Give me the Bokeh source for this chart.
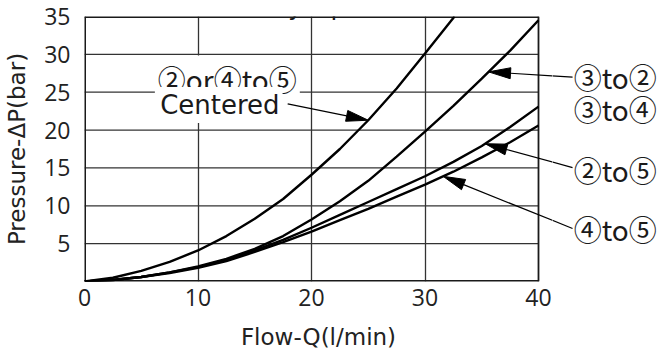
import math
import numpy as np
from bokeh.plotting import figure
from bokeh.layouts import row
from bokeh.models import Range1d, FixedTicker, Label
from bokeh.embed import file_html
from bokeh.resources import INLINE

# ---- data ----
flow = [0, 2.5, 5, 7.5, 10, 12.5, 15, 17.5, 20, 22.5, 25, 27.5, 30, 32.5, 35, 37.5, 40]
centered_flow = [0, 2.5, 5, 7.5, 10, 12.5, 15, 17.5, 20, 22.5, 25, 27.5, 30, 32.6]
centered_dp = [0, 0.5, 1.4, 2.6, 4.1, 6.0, 8.3, 10.9, 14.1, 17.5, 21.3, 25.5, 30.1, 35.0]
p3_to_2_4 = [0, 0.2, 0.6, 1.2, 2.0, 3.0, 4.3, 6.0, 8.2, 10.6, 13.3, 16.5, 19.8, 23.2, 26.8, 30.5, 34.5]
p2_to_5 = [0, 0.2, 0.6, 1.2, 1.9, 2.9, 4.1, 5.5, 7.1, 8.8, 10.5, 12.2, 13.9, 15.8, 17.9, 20.4, 23.1]
p4_to_5 = [0, 0.2, 0.6, 1.1, 1.8, 2.7, 3.9, 5.2, 6.6, 8.1, 9.6, 11.2, 12.8, 14.5, 16.4, 18.4, 20.6]

x_ticks = [0, 10, 20, 30, 40]
y_ticks = [5, 10, 15, 20, 25, 30, 35]
x_min, x_max = 0, 40
y_min, y_max = 0, 35

title_text = "Fully Open"
x_label = "Flow-Q(l/min)"
y_label = "Pressure-ΔP(bar)"

# ---- geometry ----
W_TOTAL, H = 662, 352
ML, MT, MB = 84, 16, 71
PLOT_W = 454                      # pixel width of the 0..40 chart box
EXTRA = 14                        # room right of the box for the last tick label
W1 = ML + PLOT_W + EXTRA          # main chart width
W2 = W_TOTAL - W1                 # side strip holding the right-hand labels
FH = H - MT - MB
sx = PLOT_W / (x_max - x_min)
sy = FH / (y_max - y_min)
x1_end = x_max + EXTRA / sx

p = figure(width=W1, height=H, output_backend="svg", toolbar_location=None,
           x_range=Range1d(x_min, x1_end), y_range=Range1d(y_min, y_max),
           min_border_left=ML, min_border_right=0,
           min_border_top=MT, min_border_bottom=MB)
p.background_fill_color = "white"
p.border_fill_color = "white"
p.outline_line_color = None

p.xaxis.ticker = FixedTicker(ticks=x_ticks)
p.yaxis.ticker = FixedTicker(ticks=y_ticks)
for ax in (p.xaxis, p.yaxis):
    ax.axis_line_color = None
    ax.major_tick_line_color = None
    ax.minor_tick_line_color = None
    ax.major_label_text_font = "Open Sans"
    ax.major_label_text_font_size = "23px"
    ax.major_label_text_color = "#222222"
    ax.axis_label_text_font = "DejaVu Sans"
    ax.axis_label_text_font_size = "23px"
    ax.axis_label_text_font_style = "normal"
    ax.axis_label_text_color = "#222222"
p.xaxis.major_label_standoff = 1
p.yaxis.major_label_standoff = 8
p.xaxis.axis_label = x_label
p.yaxis.axis_label = y_label
p.xaxis.axis_label_standoff = 15
p.yaxis.axis_label_standoff = 11

grid_col = "#333333"
p.xgrid.grid_line_color = grid_col
p.xgrid.grid_line_width = 1.3
p.ygrid.grid_line_color = None

# horizontal grid lines limited to the chart box, and the box edges
inner_y = [t for t in y_ticks if y_min < t < y_max]
p.segment(x0=[x_min] * len(inner_y), x1=[x_max] * len(inner_y), y0=inner_y, y1=inner_y,
          line_color=grid_col, line_width=1.3)
p.segment(x0=[x_min, x_min, x_min], x1=[x_max, x_max, x_min],
          y0=[y_min, y_max, y_min], y1=[y_min, y_max, y_max],
          line_color="#1a1a1a", line_width=3.0)
p.segment(x0=[x_max], x1=[x_max], y0=[y_min], y1=[y_max],
          line_color="#1a1a1a", line_width=1.6)

# side strip continuing the x scale to the right
p2 = figure(width=W2, height=H, output_backend="svg", toolbar_location=None,
            x_range=Range1d(x1_end, x1_end + W2 / sx), y_range=Range1d(y_min, y_max),
            x_axis_location=None, y_axis_location=None,
            min_border_left=0, min_border_right=0,
            min_border_top=MT, min_border_bottom=MB)
p2.background_fill_color = "white"
p2.border_fill_color = "white"
p2.outline_line_color = None
p2.grid.visible = False

# ---- curves ----
lw = 2.4
p.line(centered_flow, centered_dp, line_color="black", line_width=lw)
p.line(flow, p3_to_2_4, line_color="black", line_width=lw)
p.line(flow, p2_to_5, line_color="black", line_width=lw)
p.line(flow, p4_to_5, line_color="black", line_width=lw)

# ---- leader arrows ----
def pointer(tip_x, xs, ys, tail_x, tail_y, L=22, Wd=11):
    tip_y = float(np.interp(tip_x, xs, ys))
    dx = (tip_x - tail_x) * sx
    dy = (tip_y - tail_y) * sy
    n = math.hypot(dx, dy)
    ux, uy = dx / n, dy / n
    tx, ty = tip_x * sx, tip_y * sy
    bx, by = tx - L * ux, ty - L * uy
    nx, ny = -uy, ux
    hx = [tx / sx, (bx + Wd / 2 * nx) / sx, (bx - Wd / 2 * nx) / sx]
    hy = [ty / sy, (by + Wd / 2 * ny) / sy, (by - Wd / 2 * ny) / sy]
    for fig in (p, p2):
        fig.segment(x0=[tail_x], y0=[tail_y], x1=[bx / sx], y1=[by / sy],
                    line_color="black", line_width=1.2)
    p.patch(hx, hy, fill_color="black", line_color="black", line_width=1)

pointer(25.0, centered_flow, centered_dp, 17.9, 23.45)
pointer(35.6, flow, p3_to_2_4, 43.0, 27.0)
pointer(35.3, flow, p2_to_5, 43.0, 15.05)
pointer(31.6, flow, p4_to_5, 43.0, 7.0)

cfont = "Noto Sans CJK JP"
def lab(fig, x, y, text, size="28px", font=cfont, bg=None, align="left", baseline="middle"):
    kw = dict(x=x, y=y, text=text, text_font=font, text_font_size=size,
              text_color="#1a1a1a", text_align=align, text_baseline=baseline)
    if bg:
        kw.update(background_fill_color=bg, padding=3)
    fig.add_layout(Label(**kw))

lab(p, 6.2, 26.8, "②or④to⑤", size="28px", bg="white")
lab(p, 6.4, 23.3, "Centered", size="26px", font="DejaVu Sans", bg="white")
lab(p2, 43.1, 27.0, "③to②")
lab(p2, 43.1, 22.8, "③to④")
lab(p2, 43.1, 14.75, "②to⑤")
lab(p2, 43.1, 6.95, "④to⑤")

# chart title, cut by the top edge as in the reference
lab(p, (x_min + x_max) / 2, y_max + 10 / sy, title_text, size="25px", font="DejaVu Sans",
    align="center", baseline="alphabetic")

layout = row(p, p2, spacing=0)
open("out.html", "w").write(file_html(layout, INLINE))
